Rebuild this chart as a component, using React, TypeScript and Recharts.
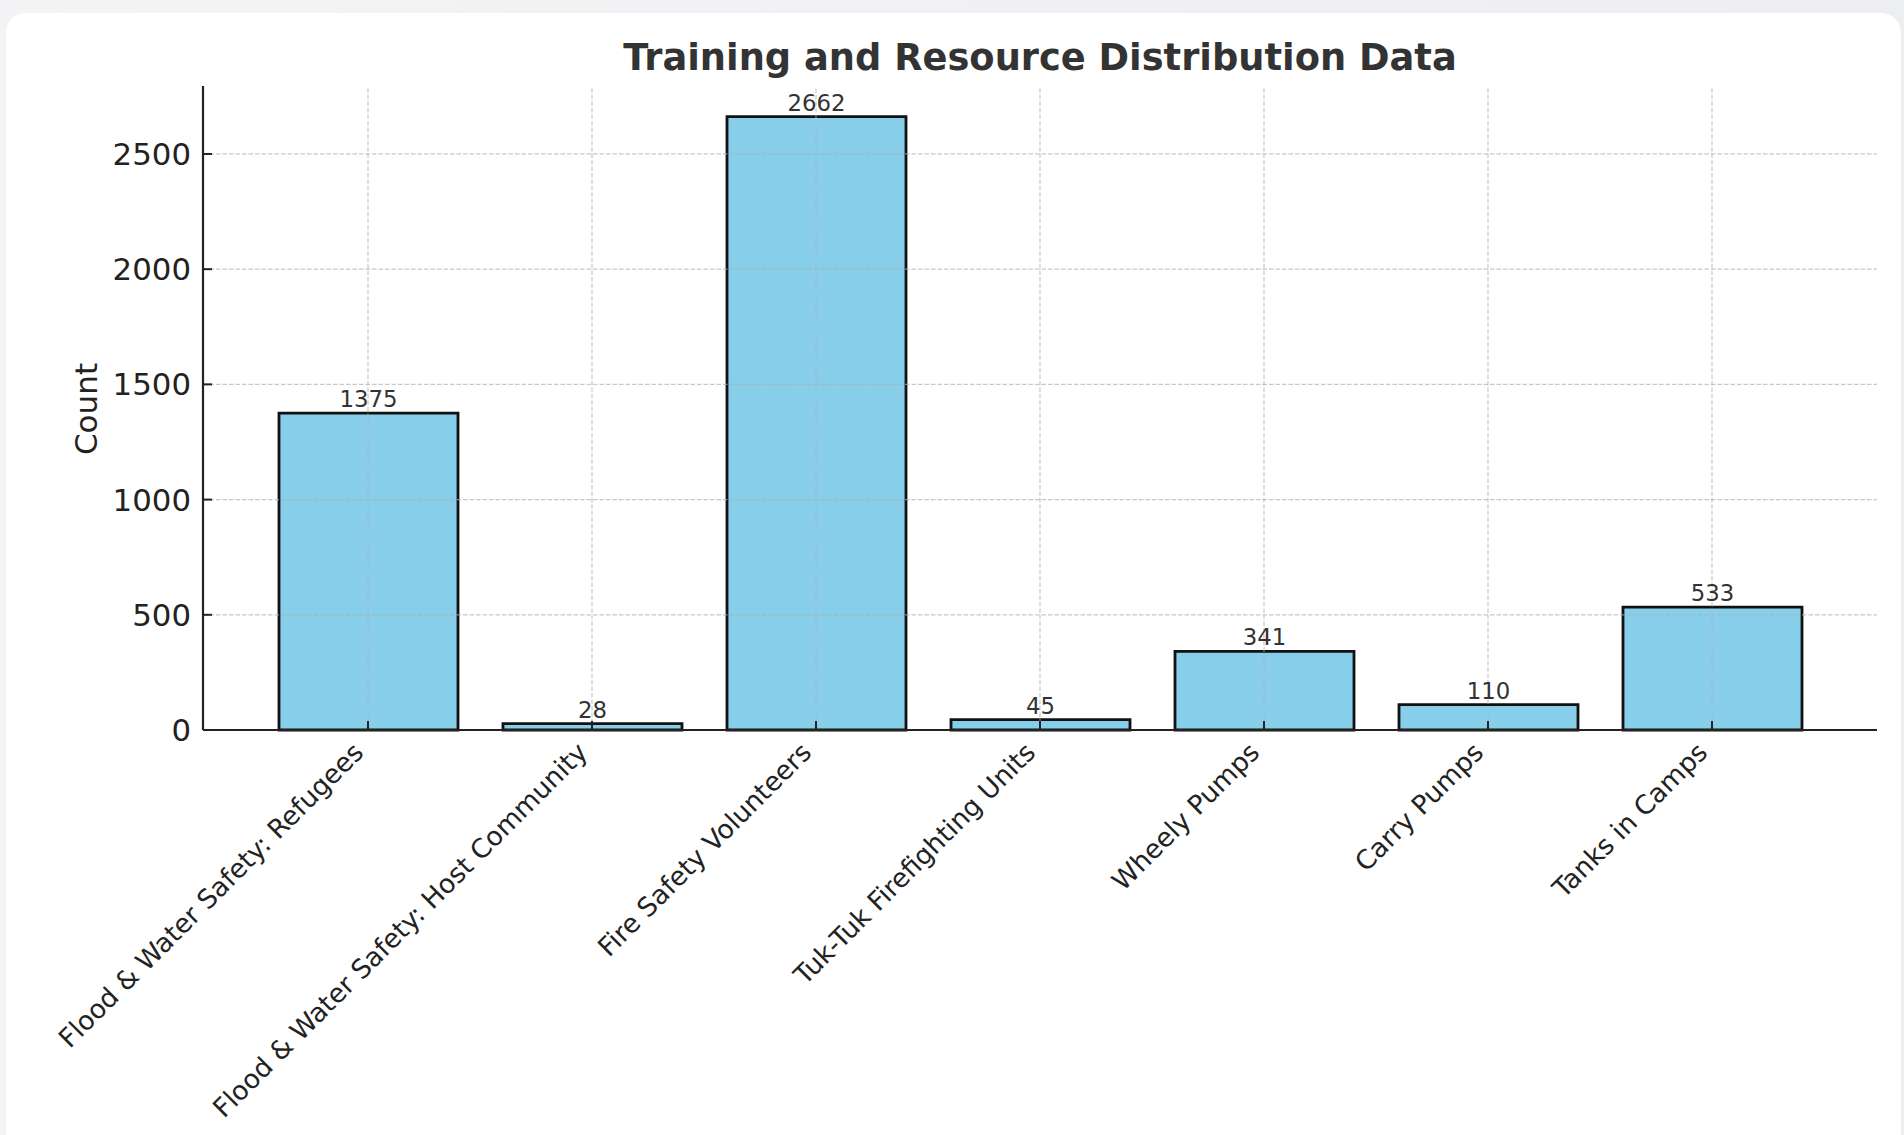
import React from 'react';
import { BarChart, Bar, XAxis, YAxis, ReferenceLine, LabelList } from 'recharts';

const categories: string[] = [
  'Flood & Water Safety: Refugees',
  'Flood & Water Safety: Host Community',
  'Fire Safety Volunteers',
  'Tuk-Tuk Firefighting Units',
  'Wheely Pumps',
  'Carry Pumps',
  'Tanks in Camps',
];
const counts: number[] = [1375, 28, 2662, 45, 341, 110, 533];
const yTicks: number[] = [0, 500, 1000, 1500, 2000, 2500];
const yMax = 2795;

const data = categories.map((name, i) => ({ name, value: counts[i] }));

const FONT = '"DejaVu Sans", sans-serif';

const gridStyle = {
  stroke: '#b0b0b0',
  strokeOpacity: 0.7,
  strokeWidth: 1.2,
  strokeDasharray: '4.5 2',
};

const XTick = (props: any) => {
  const { x, y, payload } = props;
  const bx = x - 3;
  const by = y - 5;
  return (
    <text
      x={bx}
      y={by}
      textAnchor="end"
      transform={`rotate(-45, ${bx}, ${by})`}
      fontSize={26.4}
      fontFamily={FONT}
      fill="#222"
    >
      {payload.value}
    </text>
  );
};

const CountLabel = () => (
  <text
    x={97}
    y={409}
    textAnchor="middle"
    transform="rotate(-90, 97, 409)"
    fontSize={31}
    fontFamily={FONT}
    fill="#222"
  >
    Count
  </text>
);

export default function App() {
  return (
    <div
      style={{
        position: 'absolute',
        left: 0,
        top: 0,
        width: 1904,
        height: 1135,
        overflow: 'hidden',
        background: 'linear-gradient(90deg, #f4f4f6 0%, #eceef2 100%)',
      }}
    >
      <div
        style={{
          position: 'absolute',
          left: 6,
          top: 13,
          width: 1895,
          height: 1160,
          borderRadius: 20,
          background: '#ffffff',
        }}
      />
      <div style={{ position: 'absolute', left: 0, top: 0 }}>
        <BarChart
          width={1904}
          height={1135}
          data={data}
          margin={{ top: 86, right: 27, left: 0, bottom: 0 }}
        >
          <XAxis
            dataKey="name"
            type="category"
            interval={0}
            height={405}
            padding={{ left: 53, right: 53 }}
            axisLine={{ stroke: '#222', strokeWidth: 2.2 }}
            tickLine={{ stroke: '#222', strokeWidth: 2 }}
            tickSize={-9}
            tickMargin={38}
            tick={<XTick />}
          />
          <YAxis
            type="number"
            domain={[0, yMax]}
            ticks={yTicks}
            width={203}
            axisLine={{ stroke: '#222', strokeWidth: 2.2 }}
            tickLine={{ stroke: '#222', strokeWidth: 2 }}
            tickSize={-9}
            tickMargin={21}
            tick={{ fontSize: 30.8, fontFamily: FONT, fill: '#222' }}
            label={<CountLabel />}
          />
          <Bar
            dataKey="value"
            fill="#87CEEB"
            stroke="#111"
            strokeWidth={2.8}
            barSize={179}
            isAnimationActive={false}
          >
            <LabelList
              dataKey="value"
              position="top"
              offset={6}
              fill="#333"
              fontSize={22.8}
              fontFamily={FONT}
            />
          </Bar>
          {yTicks.filter((t) => t > 0).map((t) => (
            <ReferenceLine key={`h${t}`} y={t} {...gridStyle} />
          ))}
          {categories.map((c) => (
            <ReferenceLine key={`v${c}`} x={c} {...gridStyle} />
          ))}
        </BarChart>
      </div>
      <svg
        width={1904}
        height={1135}
        style={{ position: 'absolute', left: 0, top: 0, pointerEvents: 'none' }}
      >
        <text
          x={1040}
          y={70}
          textAnchor="middle"
          fontSize={36.8}
          fontWeight="bold"
          fontFamily={FONT}
          fill="#333"
        >
          Training and Resource Distribution Data
        </text>
      </svg>
    </div>
  );
}
